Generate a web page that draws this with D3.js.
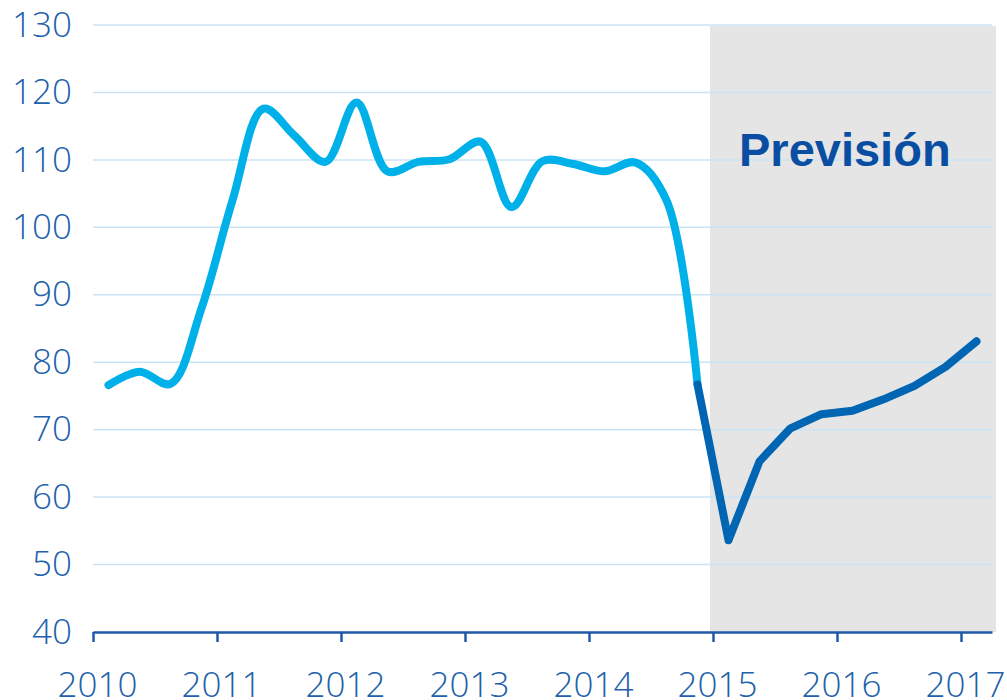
<!DOCTYPE html>
<html>
<head>
<meta charset="utf-8">
<script src="https://cdn.jsdelivr.net/npm/d3@7"></script>
<style>
  body { margin: 0; background: #fff; }
  svg { display: block; }
</style>
</head>
<body>
<div id="chart"></div>
<script>
// data (quarterly, index 2010 Q1 = 0)
let years = [2010, 2011, 2012, 2013, 2014, 2015, 2016, 2017];
let yTicks = [40, 50, 60, 70, 80, 90, 100, 110, 120, 130];
let historico = [76.6, 78.6, 76.8, 88, 104, 117.6, 113.6, 109.7,
                 118.5, 108.3, 109.7, 110.1, 112.7, 103, 109.8, 109.4,
                 108.3, 109.6, 104, 76.7];
let prevision = [76.7, 53.6, 65.3, 70.2, 72.3, 72.8, 74.5, 76.5, 79.3, 83.1];
let previsionStart = 19; // quarter index where forecast line starts
let label = "Previsión";

function init() {
    let width = 1007, height = 700;
    let svg = d3.select("#chart").append("svg")
        .attr("width", width)
        .attr("height", height);

    let x = d3.scaleLinear().domain([2010, 2017.25]).range([93, 992]);
    let y = d3.scaleLinear().domain([40, 130]).range([632, 25]);
    let qx = i => x(2010 + (i + 0.5) / 4);

    let textColor = "#2160aa";

    // forecast shading
    svg.append("rect")
        .attr("x", x(2015) - 3)
        .attr("y", y(130) + 1)
        .attr("width", 996 - (x(2015) - 3))
        .attr("height", y(40) - y(130) - 1)
        .attr("fill", "#e5e5e5");

    // grid
    svg.selectAll(".grid")
        .data(yTicks.slice(1))
        .join("line")
        .attr("class", "grid")
        .attr("x1", x(2010))
        .attr("x2", x(2017.25))
        .attr("y1", d => y(d))
        .attr("y2", d => y(d))
        .attr("stroke", "#c9e4f4")
        .attr("stroke-width", 1.5);

    // y labels
    let yAxis = svg.append("g")
        .attr("transform", "translate(" + x(2010) + ",0)")
        .call(d3.axisLeft(y).tickValues(yTicks).tickSize(0).tickPadding(21));
    yAxis.select(".domain").remove();
    yAxis.selectAll("text")
        .attr("fill", textColor)
        .style("font-family", "'Open Sans', sans-serif")
        .style("font-weight", 300)
        .style("font-size", "35px");

    // x axis
    let xAxis = svg.append("g")
        .attr("transform", "translate(0," + y(40) + ")")
        .call(d3.axisBottom(x).tickValues(years).tickFormat(d3.format("d"))
              .tickSize(10).tickSizeOuter(0).tickPadding(30));
    xAxis.select(".domain").attr("stroke", "#1f5aa8").attr("stroke-width", 2.5);
    xAxis.selectAll(".tick line").attr("stroke", "#1f5aa8").attr("stroke-width", 2.5);
    xAxis.selectAll("text")
        .attr("fill", textColor)
        .attr("dx", 4)
        .style("font-family", "'Open Sans', sans-serif")
        .style("font-weight", 300)
        .style("font-size", "35px");

    // lines
    let histLine = d3.line()
        .x((d, i) => qx(i))
        .y(d => y(d))
        .curve(d3.curveCatmullRom.alpha(0.5));
    let prevLine = d3.line()
        .x((d, i) => qx(i + previsionStart))
        .y(d => y(d));

    svg.append("path")
        .datum(historico)
        .attr("d", histLine)
        .attr("fill", "none")
        .attr("stroke", "#00b0e9")
        .attr("stroke-width", 8)
        .attr("stroke-linecap", "round")
        .attr("stroke-linejoin", "round");

    svg.append("path")
        .datum(prevision)
        .attr("d", prevLine)
        .attr("fill", "none")
        .attr("stroke", "#0066b3")
        .attr("stroke-width", 8)
        .attr("stroke-linecap", "round")
        .attr("stroke-linejoin", "round");

    // label
    svg.append("text")
        .attr("x", 739)
        .attr("y", 166)
        .attr("fill", "#0a4ea3")
        .style("font-family", "'Liberation Sans', Arial, sans-serif")
        .style("font-weight", "bold")
        .style("font-size", "47px")
        .text(label);
}
window.onload = init;
</script>
</body>
</html>
